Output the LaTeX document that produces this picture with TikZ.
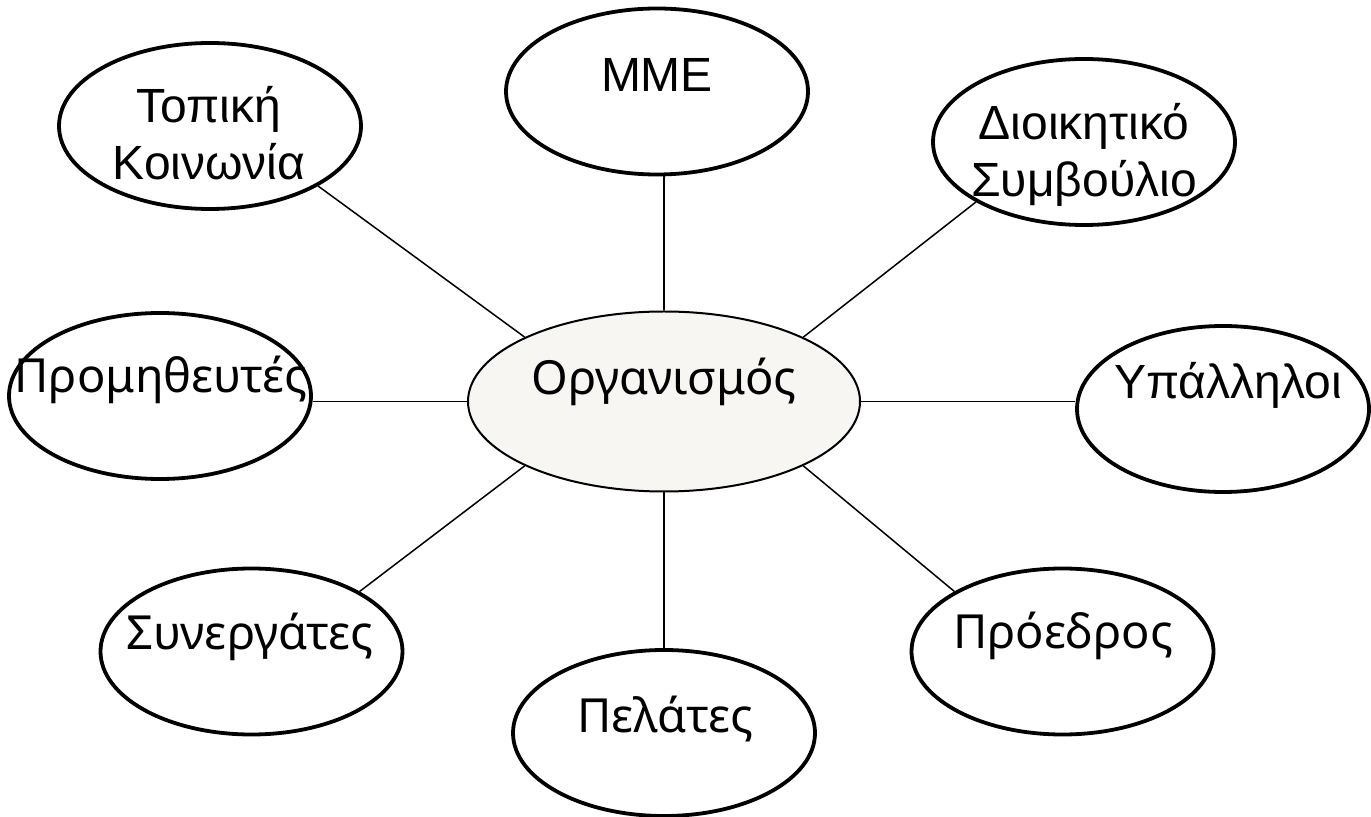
\documentclass[tikz,border=0pt]{standalone}
\usepackage{fontspec}
\setmainfont{Liberation Sans}
\newfontfamily\notosans{Noto Sans}
\usetikzlibrary{shapes.geometric}
\definecolor{orgfill}{RGB}{247,246,243}

\begin{document}
\begin{tikzpicture}[
    x=0.5pt, y=-0.5pt,
    oval/.style={draw, ellipse, line width=1.9pt, inner sep=0pt, minimum width=151pt, minimum height=83pt},
    txt/.style={anchor=base, align=center, inner sep=0pt, font=\fontsize{24}{28.5}\selectfont},
    alt/.style={txt, font=\notosans\fontsize{23.5}{28.5}\selectfont},
    link/.style={line width=0.75pt}
  ]
    \useasboundingbox (0,0) rectangle (1371,817);

    \node (org) [oval, line width=1pt, fill=orgfill, minimum width=196pt, minimum height=90pt] at (664,401.5) {};
    \node (mme) [oval] at (657,91.5) {};
    \node (topo) [oval] at (210,126) {};
    \node (dioik) [oval] at (1084,142) {};
    \node (prom) [oval] at (160,396) {};
    \node (ypal) [oval, minimum width=146pt] at (1223,409) {};
    \node (syn) [oval] at (251.5,651.5) {};
    \node (pro) [oval] at (1062.5,651.5) {};
    \node (pel) [oval] at (664,733) {};

    \draw[link] (org.north west) -- (topo.south east);
    \draw[link] (org.north) -- (org.north |- mme.south);
    \draw[link] (org.north east) -- (dioik.south west);
    \draw[link] (org.west) -- (org.west -| prom.east);
    \draw[link] (org.east) -- (org.east -| ypal.west);
    \draw[link] (org.south west) -- (syn.north east);
    \draw[link] (org.south) -- (org.south |- pel.north);
    \draw[link] (org.south east) -- (pro.north west);

    \node (org-t) [alt] at (664,395) {Οργανισμός};
    \node (mme-t) [txt] at (657,92) {ΜΜΕ};
    \node (topo-t) [txt] at (209,180) {Τοπική\\Κοινωνία};
    \node (dioik-t) [txt] at (1084,197) {Διοικητικό\\Συμβούλιο};
    \node (prom-t) [alt] at (161,393) {Προμηθευτές};
    \node (ypal-t) [txt] at (1228,399) {Υπάλληλοι};
    \node (syn-t) [alt] at (250,650) {Συνεργάτες};
    \node (pro-t) [alt] at (1063,649) {Πρόεδρος};
    \node (pel-t) [alt] at (665,733) {Πελάτες};
\end{tikzpicture}
\end{document}
